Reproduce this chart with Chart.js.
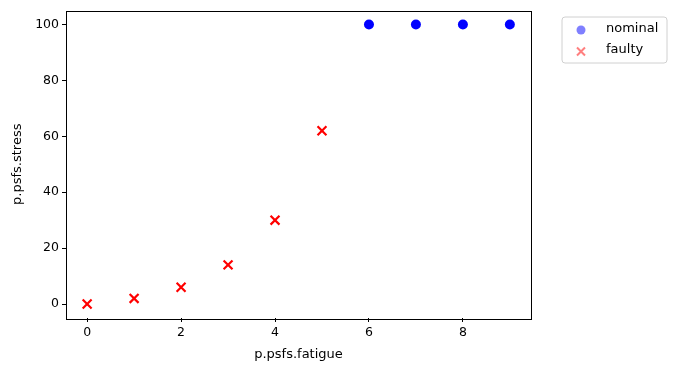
<!DOCTYPE html>
<html><head><meta charset="utf-8">
<script src="https://cdn.jsdelivr.net/npm/chart.js@4"></script>
<style>html,body{margin:0;padding:0;background:#fff}#wrap{width:676px;height:371px;position:relative}</style>
</head><body><div id="wrap"><canvas id="c" width="676" height="371"></canvas></div>
<script>
const nominalX = [6, 7, 8, 9];
const nominalY = [100, 100, 100, 100];
const faultyX = [0, 1, 2, 3, 4, 5];
const faultyY = [0, 2, 6, 14, 30, 62];
const xTicks = [0, 2, 4, 6, 8];
const yTicks = [0, 20, 40, 60, 80, 100];
const seriesNames = ['nominal', 'faulty'];

const FONT = 'DejaVu Sans';
const frame = {
  id: 'frame',
  afterDatasetsDraw(chart) {
    const {ctx, chartArea: a} = chart;
    ctx.save();
    ctx.strokeStyle = '#000'; ctx.lineWidth = 1;
    ctx.strokeRect(Math.round(a.left) + 0.5, Math.round(a.top) + 0.5, Math.round(a.right - a.left), Math.round(a.bottom - a.top));
    // legend
    const lx = 562, ly = 17, lw = 105, lh = 46, r = 3;
    ctx.beginPath();
    ctx.moveTo(lx + r, ly); ctx.lineTo(lx + lw - r, ly); ctx.quadraticCurveTo(lx + lw, ly, lx + lw, ly + r);
    ctx.lineTo(lx + lw, ly + lh - r); ctx.quadraticCurveTo(lx + lw, ly + lh, lx + lw - r, ly + lh);
    ctx.lineTo(lx + r, ly + lh); ctx.quadraticCurveTo(lx, ly + lh, lx, ly + lh - r);
    ctx.lineTo(lx, ly + r); ctx.quadraticCurveTo(lx, ly, lx + r, ly);
    ctx.closePath();
    ctx.fillStyle = 'rgba(255,255,255,0.8)'; ctx.fill();
    ctx.strokeStyle = '#d0d0d0'; ctx.stroke();
    ctx.fillStyle = 'rgba(0,0,255,0.5)';
    ctx.beginPath(); ctx.arc(581, 30, 4.5, 0, Math.PI * 2); ctx.fill();
    ctx.strokeStyle = 'rgba(255,0,0,0.5)'; ctx.lineWidth = 2;
    ctx.beginPath(); ctx.moveTo(577, 47.5); ctx.lineTo(585, 55.5); ctx.moveTo(585, 47.5); ctx.lineTo(577, 55.5); ctx.stroke();
    ctx.fillStyle = '#000'; ctx.font = '13px ' + FONT; ctx.textBaseline = 'middle';
    ctx.fillText(chart.data.datasets[0].label, 606, 29);
    ctx.fillText(chart.data.datasets[1].label, 606, 50);
    ctx.restore();
  }
};

new Chart(document.getElementById('c'), {
  type: 'scatter',
  data: {
    datasets: [
      { label: seriesNames[0], data: nominalX.map((x, i) => ({x, y: nominalY[i]})),
        pointStyle: 'circle', pointRadius: 5, backgroundColor: '#0000ff', borderColor: '#0000ff', borderWidth: 0 },
      { label: seriesNames[1], data: faultyX.map((x, i) => ({x, y: faultyY[i]})),
        pointStyle: 'crossRot', pointRadius: 6.3, borderColor: '#ff0000', backgroundColor: '#ff0000', borderWidth: 2.2 }
    ]
  },
  options: {
    responsive: false, animation: false, devicePixelRatio: 1,
    layout: { padding: { left: 0, top: 10, right: 145, bottom: 0 } },
    plugins: { legend: { display: false }, tooltip: { enabled: false } },
    scales: {
      x: {
        type: 'linear', min: -0.45, max: 9.45,
        afterBuildTicks: s => { s.ticks = xTicks.map(v => ({value: v})); },
        afterFit: s => { s.height = 53; },
        grid: { drawOnChartArea: false, drawTicks: true, tickLength: 4, color: '#000' },
        border: { display: false },
        ticks: { color: '#000', font: { family: FONT, size: 12.5 }, padding: 3, maxRotation: 0 },
        title: { display: true, text: 'p.psfs.fatigue', color: '#000', font: { family: FONT, size: 13 }, padding: { top: 2, bottom: 9 } }
      },
      y: {
        type: 'linear', min: -5, max: 105,
        afterBuildTicks: s => { s.ticks = yTicks.map(v => ({value: v})); },
        afterFit: s => { s.width = 66; },
        grid: { drawOnChartArea: false, drawTicks: true, tickLength: 4, color: '#000' },
        border: { display: false },
        ticks: { color: '#000', font: { family: FONT, size: 12.5 }, padding: 3 },
        title: { display: true, text: 'p.psfs.stress', color: '#000', font: { family: FONT, size: 13 }, padding: { top: 10, bottom: 4 } }
      }
    }
  },
  plugins: [frame]
});
</script></body></html>
